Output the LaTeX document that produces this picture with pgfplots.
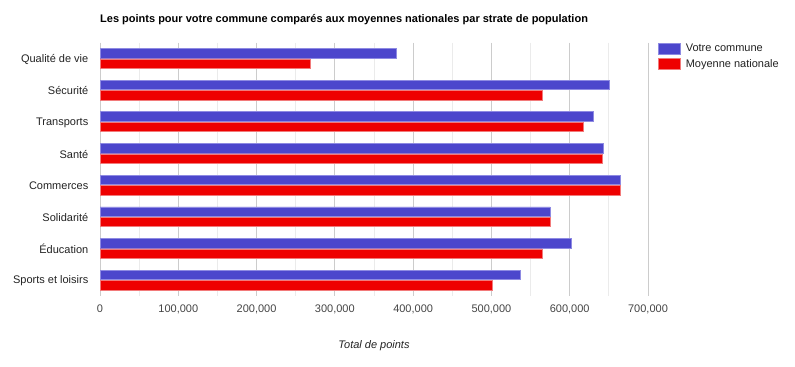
\documentclass[border=0pt]{standalone}
\usepackage{fontspec}
\setmainfont{Liberation Sans}
\usepackage{pgfplots}
\pgfplotsset{compat=1.18}
\definecolor{vc}{HTML}{4C46CC}
\definecolor{vcEdge}{HTML}{8E8AE2}
\definecolor{mn}{HTML}{EE0000}
\definecolor{mnEdge}{HTML}{F27A7A}
\definecolor{labc}{HTML}{222222}
\definecolor{tickc}{HTML}{444444}
\begin{document}
\fontsize{11bp}{13bp}\selectfont
\begin{tikzpicture}
\path[use as bounding box] (0,0) rectangle (795bp,367bp);
\node[anchor=west, inner sep=0pt, font=\bfseries\fontsize{11bp}{13bp}\selectfont] at (100bp,347.5bp)
  {Les points pour votre commune comparés aux moyennes nationales par strate de population};
\begin{axis}[
  at={(100bp,71bp)}, anchor=south west,
  width=548bp, height=253.5bp, scale only axis,
  xbar, y dir=reverse,
  xmin=0, xmax=700000, ymin=-0.5, ymax=7.5,
  enlargelimits=false,
  ytick={0,...,7},
  yticklabels={Qualité de vie, Sécurité, Transports, Santé, Commerces, Solidarité, Éducation, Sports et loisirs},
  xtick={0,100000,...,700000},
  minor x tick num=1,
  scaled x ticks=false,
  /pgf/number format/fixed,
  /pgf/number format/1000 sep={,},
  /pgf/number format/assume math mode=true,
  xticklabel style={font=\fontsize{11bp}{13bp}\selectfont, text=tickc, anchor=center, yshift=-13.3bp, text height=8bp, text depth=2bp},
  yticklabel style={font=\fontsize{11bp}{13bp}\selectfont, text=labc, anchor=east, inner sep=0pt, xshift=-11.5bp, yshift=-0.8bp},
  major tick length=0pt, minor tick length=0pt,
  xmajorgrids, xminorgrids,
  major grid style={draw=black!20, line width=0.8bp},
  minor grid style={draw=black!8, line width=0.8bp},
  axis line style={draw=none},
  extra x ticks={0},
  extra x tick labels={},
  extra x tick style={grid style={draw=black!75, line width=0.8bp}},
  xlabel={Total de points},
  xlabel style={at={(axis description cs:0.5,0)}, anchor=center, yshift=-49bp, font=\itshape\fontsize{11bp}{13bp}\selectfont, text=labc, text height=8bp, text depth=2bp},
  legend style={at={(1,1)}, anchor=north west, xshift=10bp, draw=none, fill=none,
    inner sep=0pt, font=\fontsize{11bp}{13bp}\selectfont, text=labc,
    row sep=4bp, nodes={inner sep=0pt, text height=8bp, text depth=2bp},
    /tikz/every odd column/.append style={column sep=5bp}},
  legend cell align=left,
  legend image code/.code={\fill[#1] (0bp,-5.5bp) rectangle (22bp,5.5bp);},
]
\addplot[fill=vc, draw=vcEdge, line width=0.6bp, bar width=9.5bp, bar shift=5.2bp] coordinates {
  (379000,0) (650500,1) (630000,2) (643000,3) (664500,4) (575000,5) (601500,6) (537000,7)};
\addlegendentry{Votre commune}
\addplot[fill=mn, draw=mnEdge, line width=0.6bp, bar width=9.5bp, bar shift=-5.2bp] coordinates {
  (268000,0) (565000,1) (617500,2) (641500,3) (665000,4) (575500,5) (564500,6) (501500,7)};
\addlegendentry{Moyenne nationale}
\end{axis}
\end{tikzpicture}
\end{document}
